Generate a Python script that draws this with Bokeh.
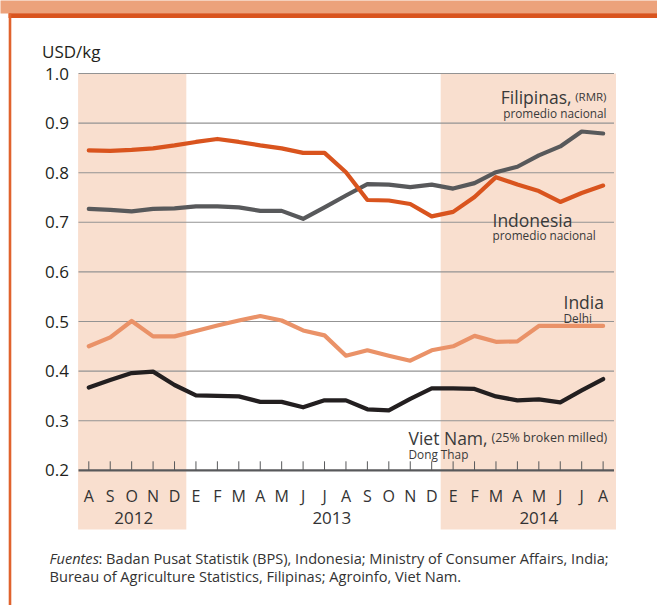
from bokeh.plotting import figure
from bokeh.models import Range1d
from bokeh.core.properties import value
from bokeh.embed import file_html
from bokeh.resources import INLINE

# ---------------- data ----------------
months = ["A", "S", "O", "N", "D", "E", "F", "M", "A", "M", "J", "J", "A",
          "S", "O", "N", "D", "E", "F", "M", "A", "M", "J", "J", "A"]
years = ["2012", "2013", "2014"]
year_pos = [2.1, 11.34, 21.0]
y_ticks = [0.2, 0.3, 0.4, 0.5, 0.6, 0.7, 0.8, 0.9, 1.0]
y_tick_labels = ["0.2", "0.3", "0.4", "0.5", "0.6", "0.7", "0.8", "0.9", "1.0"]

filipinas = [0.727, 0.725, 0.722, 0.727, 0.728, 0.732, 0.732, 0.730, 0.723, 0.723,
             0.707, 0.730, 0.754, 0.777, 0.776, 0.771, 0.776, 0.768, 0.779, 0.801,
             0.812, 0.835, 0.853, 0.883, 0.879]
indonesia = [0.845, 0.844, 0.846, 0.849, 0.855, 0.862, 0.868, 0.862, 0.855, 0.849,
             0.840, 0.840, 0.801, 0.745, 0.744, 0.737, 0.712, 0.721, 0.751, 0.791,
             0.776, 0.763, 0.741, 0.759, 0.774]
india = [0.450, 0.468, 0.501, 0.470, 0.470, 0.481, 0.492, 0.502, 0.511, 0.502,
         0.482, 0.472, 0.431, 0.442, 0.431, 0.421, 0.442, 0.450, 0.471, 0.459,
         0.460, 0.491, 0.491, 0.491, 0.491]
vietnam = [0.367, 0.382, 0.396, 0.399, 0.372, 0.351, 0.350, 0.349, 0.338, 0.338,
           0.327, 0.341, 0.341, 0.323, 0.321, 0.344, 0.365, 0.365, 0.364, 0.349,
           0.341, 0.343, 0.337, 0.361, 0.384]

shade_spans = [(-0.5, 4.55), (16.42, 24.6)]

# ---------------- layout helpers ----------------
W, H = 657, 605
OX, OY = 0, 0            # canvas origin on the page
X0, DX = 88.3, 21.43     # page x of month 0, px per month
Y1, DY = 73.0, 496.0     # page y of value 1.0, px per unit


def px(pagex):
    return (pagex - X0) / DX


def py(pagey):
    return 1.0 - (pagey - Y1) / DY


FONT = value("Open Sans")
TXT = "#231f20"

p = figure(width=W, height=H, output_backend="svg", toolbar_location=None,
           x_axis_type=None, y_axis_type=None, min_border=0,
           x_range=Range1d(px(OX), px(OX + W)),
           y_range=Range1d(py(OY + H), py(OY)))
p.outline_line_color = None
p.background_fill_color = "white"
p.border_fill_color = "white"

n = len(months)
xs = list(range(n))

# frame decorations
p.quad(left=[px(-10)], right=[px(700)], top=[py(-10)], bottom=[py(13)],
       fill_color="#eca27b", line_color=None)
p.quad(left=[px(8)], right=[px(700)], top=[py(12.8)], bottom=[py(17.4)],
       fill_color="#d9541e", line_color=None)
p.quad(left=[px(8.2)], right=[px(10.8)], top=[py(13)], bottom=[py(620)],
       fill_color="#e0632d", line_color=None)

# shaded years
p.quad(left=[a for a, b in shade_spans], right=[b for a, b in shade_spans],
       top=[1.0] * len(shade_spans), bottom=[py(529)] * len(shade_spans),
       fill_color="#f9dfcf", line_color=None)

# grid lines
gx0, gx1 = px(78), px(613.5)
grid_vals = y_ticks[1:]
p.segment(x0=[gx0] * len(grid_vals), x1=[gx1] * len(grid_vals), y0=grid_vals, y1=grid_vals,
          line_color="#939393", line_width=1.1)

# axis line and ticks
p.segment(x0=[gx0], x1=[gx1], y0=[y_ticks[0]], y1=[y_ticks[0]],
          line_color="#58595b", line_width=2.2)
tick_len = 9.0 / DY
p.segment(x0=xs, x1=xs, y0=[y_ticks[0]] * n, y1=[y_ticks[0] + tick_len] * n,
          line_color="#58595b", line_width=1)

# y tick labels
p.text(x=[px(68.5)] * len(y_ticks), y=y_ticks, text=y_tick_labels,
       text_align="right", text_baseline="middle", text_font=FONT,
       text_font_size="17px", text_color=TXT)

# month and year labels
p.text(x=xs, y=[py(495)] * n, text=months, text_align="center",
       text_baseline="alphabetic", text_font=FONT, text_font_size="16px", text_color="#333333")
p.text(x=year_pos, y=[py(517)] * len(years), text=years, text_align="center",
       text_baseline="alphabetic", text_font=FONT, text_font_size="17px", text_color="#333333")

# series lines
for vals, col in [(filipinas, "#58595b"), (indonesia, "#d9541e"),
                  (india, "#ea9268"), (vietnam, "#231f20")]:
    p.line(xs, vals, line_color=col, line_width=4.2, line_join="round", line_cap="round")

# unit label
p.text(x=[px(41.5)], y=[py(51)], text=["USD/kg"], text_align="left",
       text_baseline="alphabetic", text_font=FONT, text_font_size="17px", text_color=TXT)

LBL = "#3a3a3a"
# series annotations
p.text(x=[px(571)], y=[py(96)], text=["Filipinas,"], text_align="right",
       text_baseline="alphabetic", text_font=FONT, text_font_size="17.5px", text_color=LBL)
p.text(x=[px(606)], y=[py(96)], text=["(RMR)"], text_align="right",
       text_baseline="alphabetic", text_font=FONT, text_font_size="11.5px", text_color=LBL)
p.text(x=[px(606)], y=[py(112)], text=["promedio nacional"], text_align="right",
       text_baseline="alphabetic", text_font=FONT, text_font_size="11.8px", text_color=LBL)

p.text(x=[px(492)], y=[py(219)], text=["Indonesia"], text_align="left",
       text_baseline="alphabetic", text_font=FONT, text_font_size="17.5px", text_color=LBL)
p.text(x=[px(492)], y=[py(234)], text=["promedio nacional"], text_align="left",
       text_baseline="alphabetic", text_font=FONT, text_font_size="11.8px", text_color=LBL)

p.text(x=[px(563)], y=[py(301)], text=["India"], text_align="left",
       text_baseline="alphabetic", text_font=FONT, text_font_size="17.5px", text_color=LBL)
p.text(x=[px(563)], y=[py(317)], text=["Delhi"], text_align="left",
       text_baseline="alphabetic", text_font=FONT, text_font_size="11.8px", text_color=LBL)

p.text(x=[px(408)], y=[py(437)], text=["Viet Nam,"], text_align="left",
       text_baseline="alphabetic", text_font=FONT, text_font_size="17.5px", text_color=LBL)
p.text(x=[px(491)], y=[py(437)], text=["(25% broken milled)"], text_align="left",
       text_baseline="alphabetic", text_font=FONT, text_font_size="12.5px", text_color=LBL)
p.text(x=[px(408)], y=[py(453)], text=["Dong Thap"], text_align="left",
       text_baseline="alphabetic", text_font=FONT, text_font_size="11.8px", text_color=LBL)

# footnote
p.text(x=[px(49)], y=[py(557)], text=["Fuentes"], text_align="left",
       text_baseline="alphabetic", text_font=FONT, text_font_size="14.6px",
       text_font_style="italic", text_color="#333333")
p.text(x=[px(98)], y=[py(557)],
       text=[": Badan Pusat Statistik (BPS), Indonesia; Ministry of Consumer Affairs, India;"],
       text_align="left", text_baseline="alphabetic", text_font=FONT, text_font_size="14.6px",
       text_color="#333333")
p.text(x=[px(49)], y=[py(575)],
       text=["Bureau of Agriculture Statistics, Filipinas; Agroinfo, Viet Nam."],
       text_align="left", text_baseline="alphabetic", text_font=FONT, text_font_size="14.6px",
       text_color="#333333")

open("out.html", "w").write(file_html(p, INLINE))
